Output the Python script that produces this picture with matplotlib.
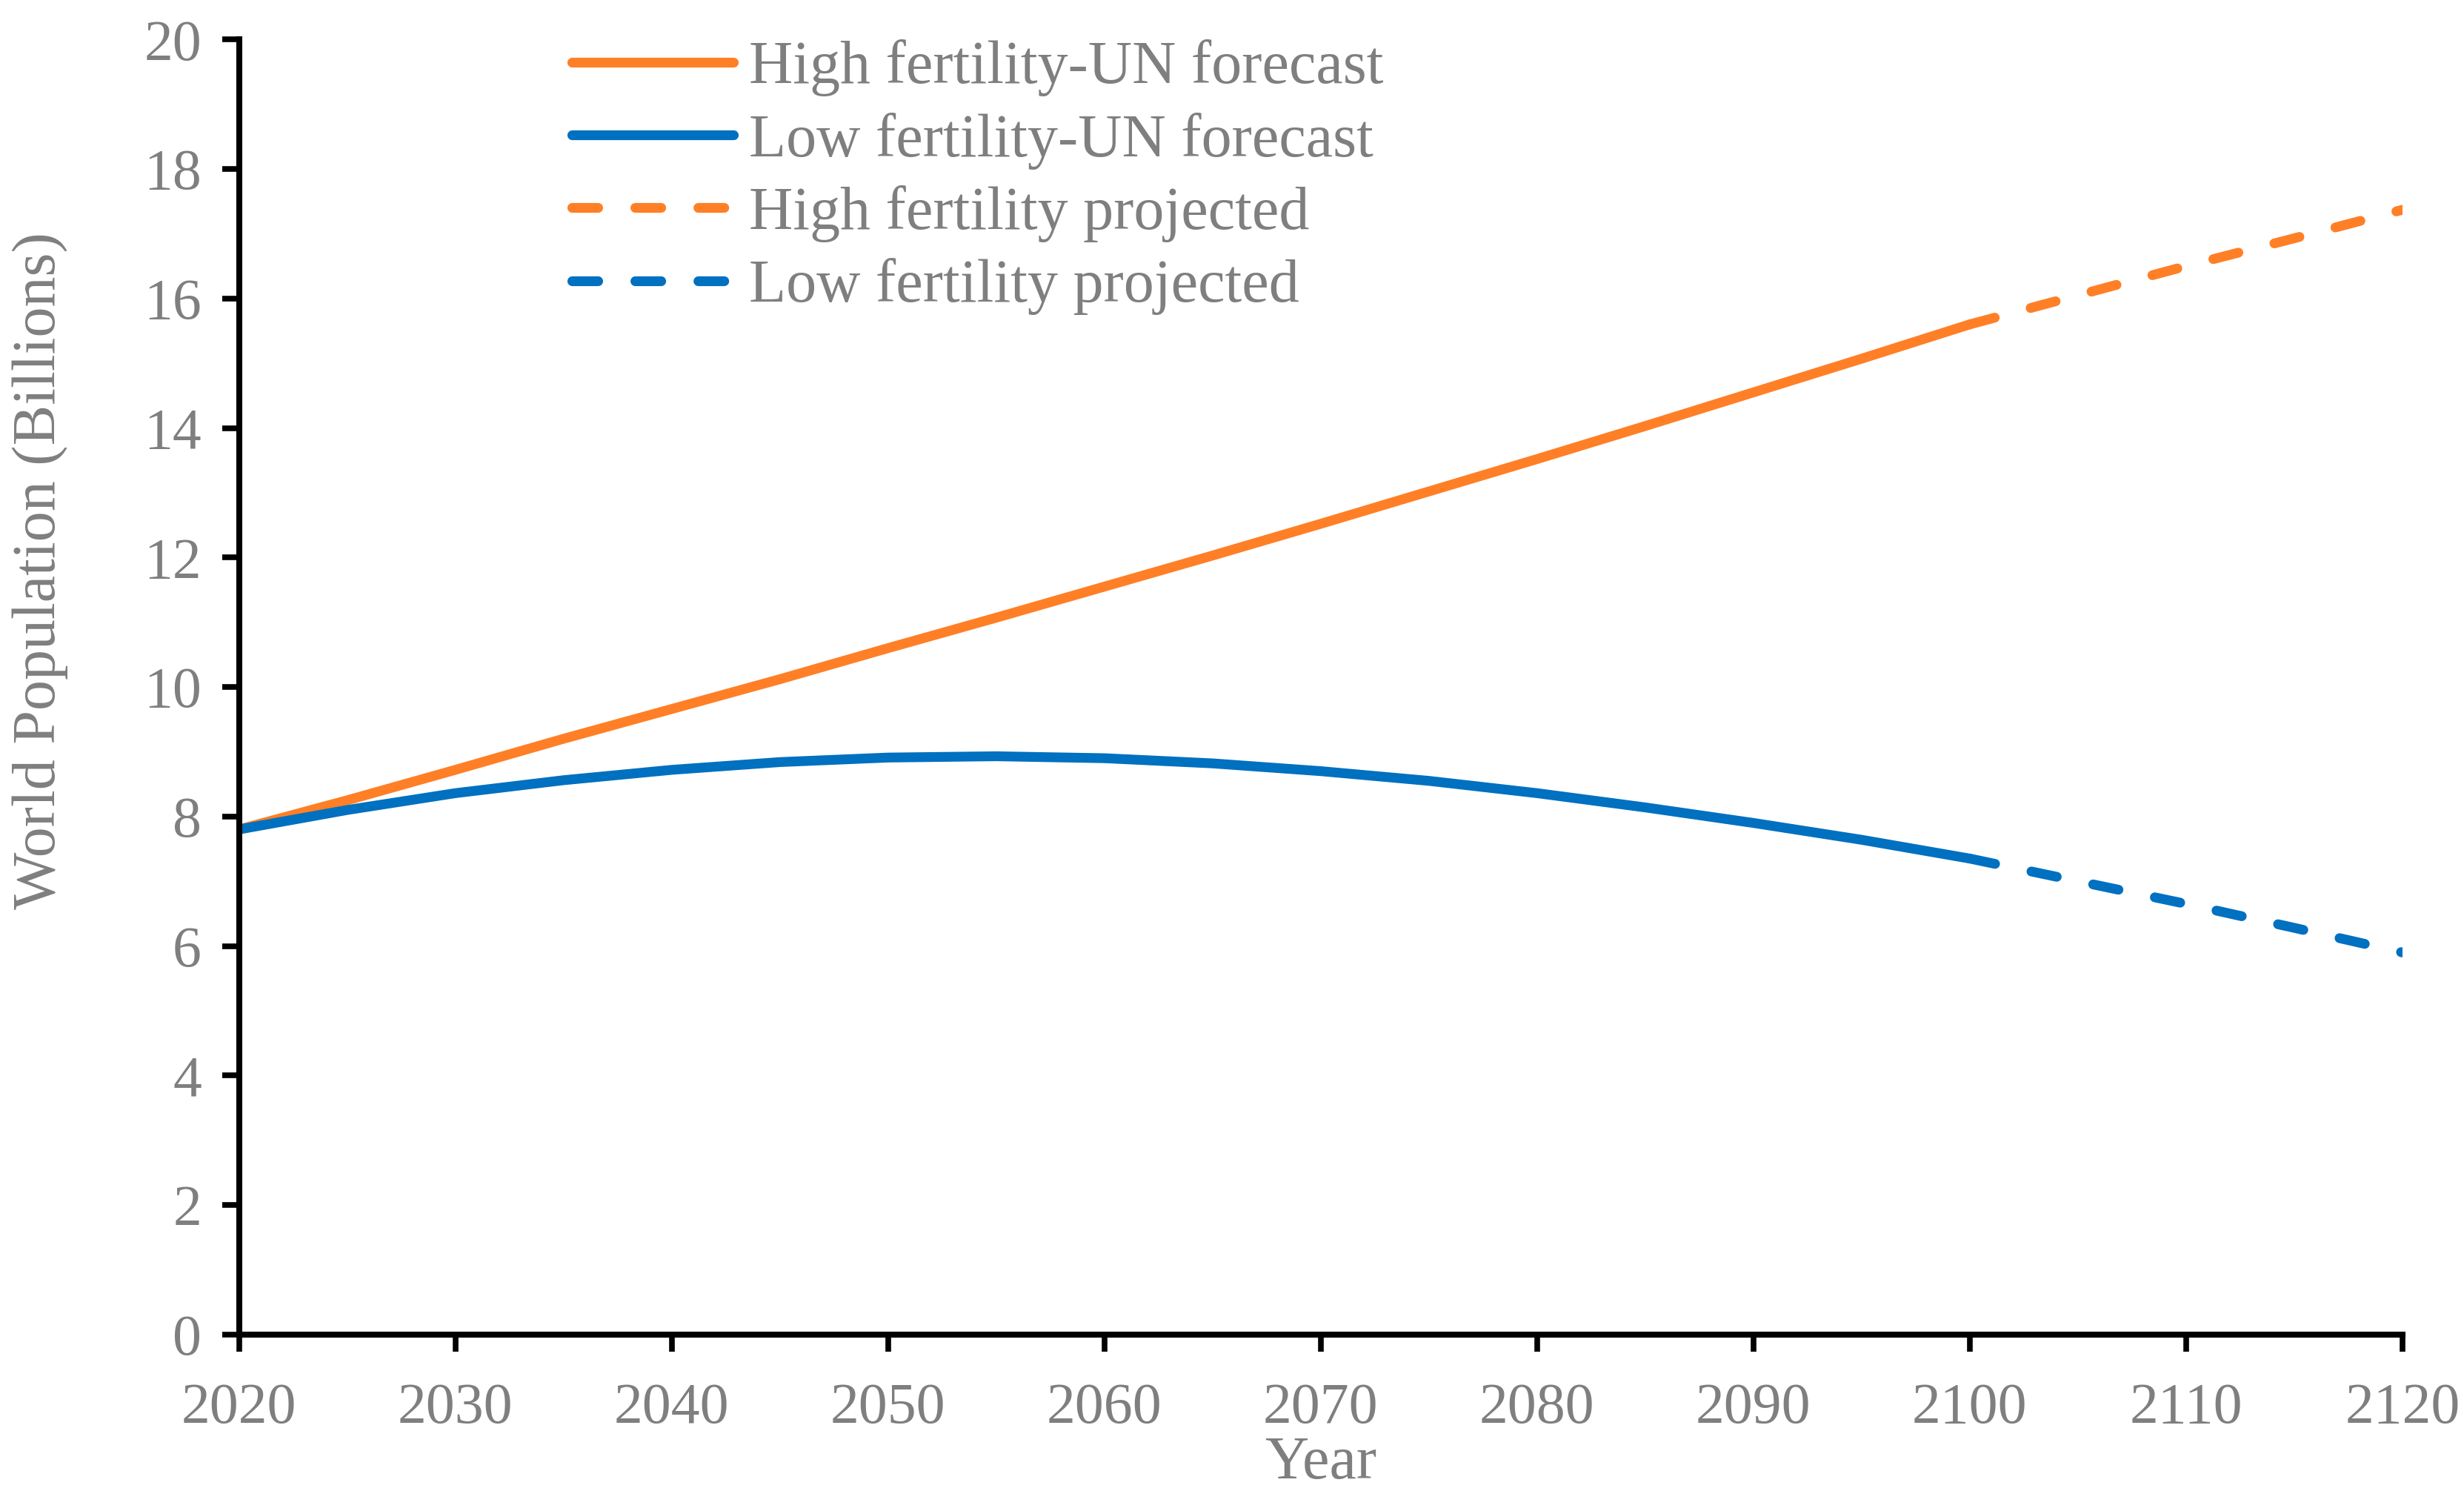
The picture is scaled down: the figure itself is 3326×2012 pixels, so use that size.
import numpy as np
import matplotlib
matplotlib.use("Agg")
import matplotlib.pyplot as plt

# values (billions)
years_un = [2020, 2025, 2030, 2035, 2040, 2045, 2050, 2055, 2060, 2065,
            2070, 2075, 2080, 2085, 2090, 2095, 2100]
high_un = [7.8, 8.25, 8.72, 9.2, 9.66, 10.12, 10.6, 11.07, 11.55, 12.03,
           12.52, 13.02, 13.52, 14.03, 14.55, 15.07, 15.6]
low_un = [7.8, 8.1, 8.36, 8.56, 8.72, 8.84, 8.91, 8.93, 8.9, 8.82,
          8.7, 8.55, 8.36, 8.14, 7.9, 7.64, 7.35]

years_proj = [2100, 2105, 2110, 2115, 2120]
high_proj = [15.6, 16.05, 16.5, 16.93, 17.37]
low_proj = [7.35, 7.0, 6.65, 6.28, 5.9]

x_ticks = [2020, 2030, 2040, 2050, 2060, 2070, 2080, 2090, 2100, 2110, 2120]
y_ticks = [0, 2, 4, 6, 8, 10, 12, 14, 16, 18, 20]

orange = '#FF7F27'
blue = '#0070C0'
grey = '#7F7F7F'

plt.rcParams['font.family'] = ['Liberation Serif', 'DejaVu Serif']
fs_tick = 56
fs = 59

fig = plt.figure(figsize=(33.26, 20.12), dpi=100)
ax = fig.add_axes([0.097, 0.105, 0.878, 0.8685])

lw = 9.5
ax.plot(years_un, high_un, color=orange, lw=lw, solid_capstyle='round',
        label='High fertility-UN forecast')
ax.plot(years_un, low_un, color=blue, lw=lw, solid_capstyle='round',
        label='Low fertility-UN forecast')
ax.plot(years_proj, high_proj, color=orange, lw=lw, dashes=(2.65, 3.8),
        dash_capstyle='round', label='High fertility projected')
ax.plot(years_proj, low_proj, color=blue, lw=lw, dashes=(2.65, 3.8),
        dash_capstyle='round', label='Low fertility projected')

ax.set_xlim(2020, 2120)
ax.set_ylim(0, 20)
ax.set_xticks(x_ticks)
ax.set_yticks(y_ticks)

for s in ['top', 'right']:
    ax.spines[s].set_visible(False)
for s in ['left', 'bottom']:
    ax.spines[s].set_linewidth(5.8)
    ax.spines[s].set_color('black')
ax.tick_params(axis='both', direction='out', length=16.5, width=5.5,
               color='black', labelcolor=grey, labelsize=fs_tick)
ax.tick_params(axis='x', pad=30)
ax.tick_params(axis='y', pad=20)

ax.set_xlabel('Year', fontsize=fs, color=grey, va='center')
ax.xaxis.set_label_coords(0.5, -0.1)
ax.set_ylabel('World Population (Billions)', fontsize=fs, color=grey, va='center')
ax.yaxis.set_label_coords(-0.092, 0.59)

leg = ax.legend(loc='upper left', bbox_to_anchor=(0.154, 1.0), frameon=False,
                fontsize=fs, handlelength=2.66, handletextpad=0.25,
                labelspacing=0.26, borderaxespad=0, borderpad=0)
for t in leg.get_texts():
    t.set_color(grey)

fig.savefig('out.png', dpi=100)
